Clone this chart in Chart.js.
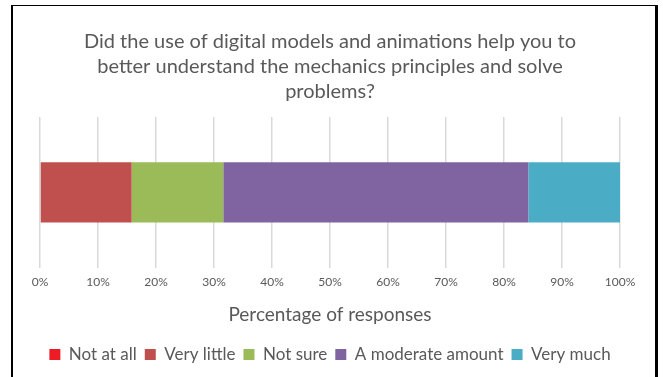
<!DOCTYPE html>
<html>
<head>
<meta charset="utf-8">
<script src="https://cdn.jsdelivr.net/npm/chart.js@4.4.1/dist/chart.umd.min.js"></script>
<style>
  html, body { margin: 0; padding: 0; background: #fff; }
  #wrap { position: relative; width: 663px; height: 377px; overflow: hidden; }
  #frame { position: absolute; left: 11px; top: 5px; width: 642px; height: 400px;
           border-left: 2px solid #000; border-top: 1px solid #000; border-right: 3px solid #000; }
  canvas { position: absolute; left: 0; top: 0; }
</style>
</head>
<body>
<div id="wrap">
  <canvas id="chart" width="663" height="377"></canvas>
  <div id="frame"></div>
</div>
<script>
const categories = ['']
const responseLabels = ['Not at all', 'Very little', 'Not sure', 'A moderate amount', 'Very much']
const responseShares = [0, 15.8, 15.8, 52.6, 15.8]
const responseColors = ['#ED1C24', '#C0504D', '#9BBB59', '#8064A2', '#4BACC6']
const tickValues = [0, 10, 20, 30, 40, 50, 60, 70, 80, 90, 100]
const titleLines = [
    'Did the use of digital models and animations help you to',
    'better understand the mechanics principles and solve',
    'problems?'
]
const axisTitle = 'Percentage of responses'

const textColor = '#595959'
const fontFamily = 'Lato, "Open Sans", sans-serif'

const datasets = responseLabels.map((label, i) => ({
    label: label,
    data: [responseShares[i]],
    backgroundColor: responseColors[i],
    borderWidth: 0,
    barPercentage: 0.4,
    categoryPercentage: 1
}))

new Chart(document.getElementById('chart').getContext('2d'), {
    type: 'bar',
    data: { labels: categories, datasets: datasets },
    options: {
        indexAxis: 'y',
        responsive: false,
        animation: false,
        layout: { padding: { left: 40, right: 43, top: 10, bottom: 4 } },
        plugins: {
            title: {
                display: true,
                text: titleLines,
                color: textColor,
                font: { family: fontFamily, size: 20, weight: 'normal', lineHeight: 1.25 },
                padding: { top: 19, bottom: 13 }
            },
            legend: {
                position: 'bottom',
                labels: {
                    color: textColor,
                    font: { family: fontFamily, size: 17 },
                    boxWidth: 11,
                    boxHeight: 11,
                    padding: 8
                }
            },
            tooltip: { enabled: false }
        },
        scales: {
            x: {
                stacked: true,
                min: 0,
                max: 100,
                afterBuildTicks: (axis) => { axis.ticks = tickValues.map(v => ({ value: v })) },
                ticks: {
                    color: textColor,
                    font: { family: fontFamily, size: 12 },
                    padding: 7,
                    callback: (v) => v + '%'
                },
                grid: { color: '#D9D9D9', lineWidth: 1.5, drawTicks: false },
                border: { display: false },
                title: {
                    display: true,
                    text: axisTitle,
                    color: textColor,
                    font: { family: fontFamily, size: 19 },
                    padding: { top: 7, bottom: 12 }
                }
            },
            y: {
                stacked: true,
                display: false
            }
        }
    }
})
</script>
</body>
</html>
